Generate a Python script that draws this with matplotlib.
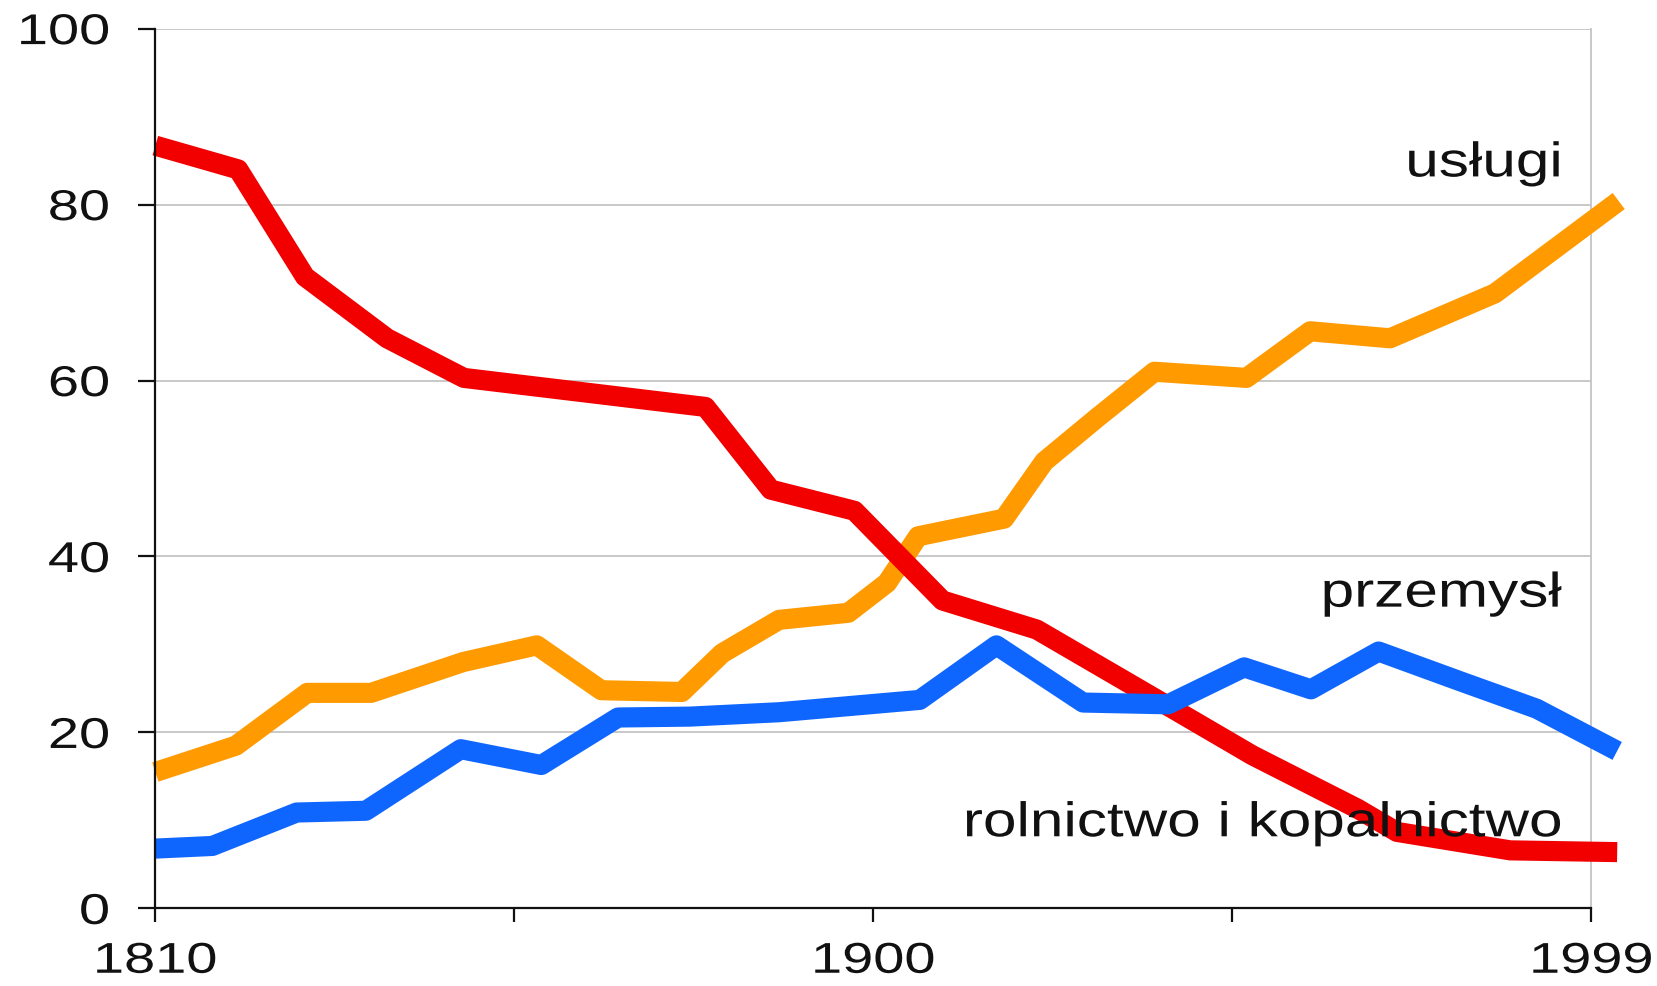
import matplotlib
matplotlib.use("Agg")
from matplotlib import pyplot as plt
from matplotlib import patheffects
from matplotlib.transforms import Affine2D

# usługi (services)
uslugi_years = [1810, 1820.6, 1830, 1838.4, 1850.5, 1860.2, 1868.7, 1879.3, 1884.6,
                1892.1, 1901.2, 1906.3, 1910.4, 1921.7, 1927, 1934, 1941.5, 1953.6,
                1962, 1972.5, 1986.3, 2002.6]
uslugi_vals = [15.5, 18.5, 24.5, 24.5, 28.0, 29.9, 24.8, 24.6, 29.0,
               32.8, 33.6, 37.0, 42.3, 44.3, 50.8, 55.8, 61.0, 60.3,
               65.6, 64.8, 69.9, 80.4]

# przemysł (industry)
przemysl_years = [1810, 1817.5, 1828.6, 1837.7, 1850.2, 1860.8, 1870.9, 1880.3, 1892.1,
                  1910.6, 1920.7, 1932.1, 1943.3, 1953.3, 1962.1, 1971, 1981.8, 1991.8,
                  2002.4]
przemysl_vals = [6.8, 7.1, 10.9, 11.1, 18.1, 16.3, 21.7, 21.8, 22.3,
                 23.7, 29.9, 23.4, 23.2, 27.4, 24.9, 29.2, 25.8, 22.7,
                 17.9]

# rolnictwo i kopalnictwo (agriculture and mining)
rolnictwo_years = [1810, 1820.9, 1829.7, 1840.5, 1850.6, 1882.4, 1891, 1902, 1913.6,
                   1926, 1943.3, 1954.4, 1968.3, 1973.4, 1988.3, 2002.4]
rolnictwo_vals = [86.7, 84.0, 71.8, 64.8, 60.3, 57.0, 47.6, 45.2, 35.0,
                  31.7, 23.0, 17.4, 11.3, 8.7, 6.6, 6.4]

x_ticks = [1810, 1857.25, 1904.5, 1951.75, 1999]
x_tick_labels = ["1810", "", "1900", "", "1999"]
y_ticks = [0, 20, 40, 60, 80, 100]

plt.rcParams["font.family"] = ["Liberation Sans", "DejaVu Sans"]


class Stretch(patheffects.AbstractPathEffect):
    """Stretch text horizontally around its anchor (the source picture is widened)."""
    def __init__(self, sx, anchor="center"):
        super().__init__()
        self.sx = sx
        self.anchor = anchor

    def draw_path(self, renderer, gc, tpath, affine, rgbFace=None):
        ext = tpath.transformed(affine).get_extents()
        if self.anchor == "left":
            x0 = ext.x0
        elif self.anchor == "right":
            x0 = ext.x1
        else:
            x0 = (ext.x0 + ext.x1) / 2
        new_affine = affine + Affine2D().translate(-x0, 0).scale(self.sx, 1).translate(x0, 0)
        renderer.draw_path(gc, tpath, new_affine, rgbFace)


fig = plt.figure(figsize=(16.58, 9.87), dpi=100)
ax = fig.add_axes([0.0937, 0.0786, 0.8661, 0.8914])

lw = 14.5
ax.plot(uslugi_years, uslugi_vals, color="#ff9a00", lw=lw, clip_on=False,
        solid_joinstyle="round", solid_capstyle="butt", zorder=3)
ax.plot(rolnictwo_years, rolnictwo_vals, color="#f20000", lw=lw, clip_on=False,
        solid_joinstyle="round", solid_capstyle="butt", zorder=4)
ax.plot(przemysl_years, przemysl_vals, color="#0f66ff", lw=lw, clip_on=False,
        solid_joinstyle="round", solid_capstyle="butt", zorder=5)

ax.set_xlim(1810, 1999)
ax.set_ylim(0, 100)
ax.set_xticks(x_ticks)
ax.set_xticklabels(x_tick_labels)
ax.set_yticks(y_ticks)

ax.yaxis.grid(True, color="#c4c4c4", lw=1.3)
ax.set_axisbelow(True)
ax.spines["top"].set_visible(False)
ax.spines["right"].set_color("#c4c4c4")
ax.spines["right"].set_linewidth(1.3)
for side in ["left", "bottom"]:
    ax.spines[side].set_color("#111111")
    ax.spines[side].set_linewidth(1.6)
    ax.spines[side].set_zorder(6)

ax.tick_params(axis="y", direction="out", length=12, width=1.6, pad=21,
               labelsize=31, colors="#111111")
ax.tick_params(axis="x", direction="out", length=10, width=1.6, pad=14,
               labelsize=31, colors="#111111")

for lbl in ax.get_yticklabels():
    lbl.set_path_effects([Stretch(1.3, "right")])
for lbl in ax.get_xticklabels():
    lbl.set_path_effects([Stretch(1.3, "center")])

label_x = 1995.1
for txt, yv in [("usługi", 83.2), ("przemysł", 34.3), ("rolnictwo i kopalnictwo", 8.2)]:
    t = ax.text(label_x, yv, txt, ha="right", va="baseline", fontsize=35,
                color="#111111", zorder=7)
    t.set_path_effects([Stretch(1.24, "right")])

fig.savefig("out.png", dpi=100)
plt.close(fig)
